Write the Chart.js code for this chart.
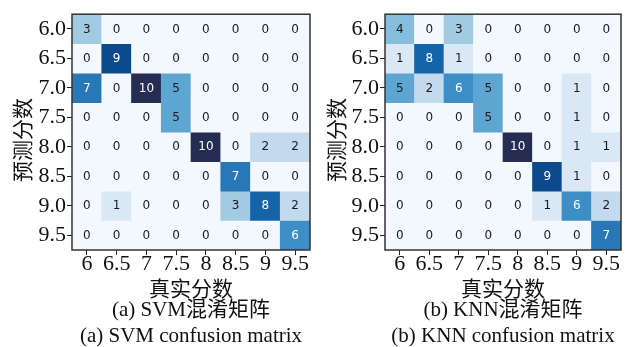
<!DOCTYPE html>
<html>
<head>
<meta charset="utf-8">
<script src="https://cdn.jsdelivr.net/npm/chart.js@4"></script>
<style>
  html, body { margin: 0; padding: 0; background: #ffffff; }
  #wrap { position: relative; width: 632px; height: 347px; }
  .cv { position: absolute; top: 0; width: 316px; height: 347px; }
</style>
</head>
<body>
<div id="wrap">
  <div class="cv" style="left:0"><canvas id="c1" width="316" height="347"></canvas></div>
  <div class="cv" style="left:316px"><canvas id="c2" width="316" height="347"></canvas></div>
</div>
<script>
// ---- data ----
const trueLabels = ['6', '6.5', '7', '7.5', '8', '8.5', '9', '9.5'];
const predLabels = ['6.0', '6.5', '7.0', '7.5', '8.0', '8.5', '9.0', '9.5'];
const xTitle = '真实分数';
const yTitle = '预测分数';

// rows = predicted (6.0 .. 9.5), columns = true (6 .. 9.5)
const svmMatrix = [
  [3, 0, 0, 0, 0, 0, 0, 0],
  [0, 9, 0, 0, 0, 0, 0, 0],
  [7, 0, 10, 5, 0, 0, 0, 0],
  [0, 0, 0, 5, 0, 0, 0, 0],
  [0, 0, 0, 0, 10, 0, 2, 2],
  [0, 0, 0, 0, 0, 7, 0, 0],
  [0, 1, 0, 0, 0, 3, 8, 2],
  [0, 0, 0, 0, 0, 0, 0, 6]
];
const knnMatrix = [
  [4, 0, 3, 0, 0, 0, 0, 0],
  [1, 8, 1, 0, 0, 0, 0, 0],
  [5, 2, 6, 5, 0, 0, 1, 0],
  [0, 0, 0, 5, 0, 0, 1, 0],
  [0, 0, 0, 0, 10, 0, 1, 1],
  [0, 0, 0, 0, 0, 9, 1, 0],
  [0, 0, 0, 0, 0, 1, 6, 2],
  [0, 0, 0, 0, 0, 0, 0, 7]
];
const svmCaption = ['(a) SVM混淆矩阵', '(a) SVM confusion matrix'];
const knnCaption = ['(b) KNN混淆矩阵', '(b) KNN confusion matrix'];

// ---- styles ----
const palette = ['#f2f8fd', '#dae8f5', '#c3daee', '#a3cae3', '#86bcdc', '#5ea6d2',
                 '#3d8dc6', '#2878b8', '#1563a9', '#0d4a8c', '#252d52'];
const serif = "'Liberation Serif', 'Noto Sans CJK SC', serif";

function cellColor(v) { return palette[Math.max(0, Math.min(10, v))]; }

const cellPlugin = {
  id: 'cells',
  afterDatasetsDraw(chart, args, opts) {
    const m = opts.matrix;
    const xs = chart.scales.x, ys = chart.scales.y;
    const ctx = chart.ctx;
    ctx.save();
    ctx.font = "12px 'DejaVu Sans'";
    ctx.textAlign = 'center';
    ctx.textBaseline = 'middle';
    for (let r = 0; r < m.length; r++) {
      for (let c = 0; c < m[r].length; c++) {
        const v = m[r][c];
        ctx.fillStyle = v > 5 ? '#ffffff' : '#1a1a1a';
        ctx.fillText(String(v), xs.getPixelForValue(c), ys.getPixelForValue(r) + 0.5);
      }
    }
    const a = chart.chartArea;
    ctx.strokeStyle = '#333333';
    ctx.lineWidth = 1.5;
    ctx.strokeRect(a.left, a.top, a.right - a.left, a.bottom - a.top);
    // rotated y-axis title
    ctx.translate(opts.yTitleX, (a.top + a.bottom) / 2 + 8);
    ctx.rotate(-Math.PI / 2);
    ctx.fillStyle = '#111111';
    ctx.font = "21px " + serif;
    ctx.fillText(yTitle, 0, 0);
    ctx.restore();
  }
};

function makeChart(id, matrix, caption, yWidth, padRight, yTitleX) {
  const datasets = matrix.map((row, r) => ({
    data: row.map(() => [r - 0.5, r + 0.5]),
    backgroundColor: row.map(v => cellColor(v)),
    borderWidth: 0,
    barPercentage: 1,
    categoryPercentage: 1,
    grouped: false
  }));
  return new Chart(document.getElementById(id), {
    type: 'bar',
    data: { labels: trueLabels, datasets },
    options: {
      responsive: false,
      animation: false,
      layout: { padding: { top: 11, right: padRight, left: 0, bottom: 0 } },
      plugins: {
        legend: { display: false },
        tooltip: { enabled: false },
        title: {
          display: true,
          position: 'bottom',
          fullSize: false,
          text: caption,
          color: '#111111',
          font: { family: serif, size: 21, weight: 'normal', lineHeight: 1.25 },
          padding: { top: 0, bottom: -3 }
        },
        cells: { matrix, yTitleX }
      },
      scales: {
        x: {
          type: 'category',
          offset: true,
          grid: { display: true, offset: false, drawOnChartArea: false, tickLength: 5, color: '#222222', tickWidth: 1 },
          border: { display: false },
          ticks: { color: '#111111', padding: -4, maxRotation: 0, autoSkip: false,
                   font: { family: serif, size: 22 } },
          title: { display: true, text: xTitle, color: '#111111', padding: { top: 0, bottom: -3 },
                   font: { family: serif, size: 21, lineHeight: 1.0 } },
          afterFit(s) { s.height = 47.5; }
        },
        y: {
          type: 'linear',
          min: -0.5,
          max: 7.5,
          reverse: true,
          afterBuildTicks(s) { s.ticks = predLabels.map((_, i) => ({ value: i })); },
          grid: { display: true, drawOnChartArea: false, tickLength: 5, color: '#222222', tickWidth: 1 },
          border: { display: false },
          ticks: { color: '#111111', padding: 1, autoSkip: false,
                   callback: (v) => predLabels[v],
                   font: { family: serif, size: 22 } },
          title: { display: false },
          afterFit(s) { s.width = yWidth; }
        }
      }
    },
    plugins: [cellPlugin]
  });
}

makeChart('c1', svmMatrix, svmCaption, 72, 6, 24);
makeChart('c2', knnMatrix, knnCaption, 69, 11, 22);
</script>
</body>
</html>
